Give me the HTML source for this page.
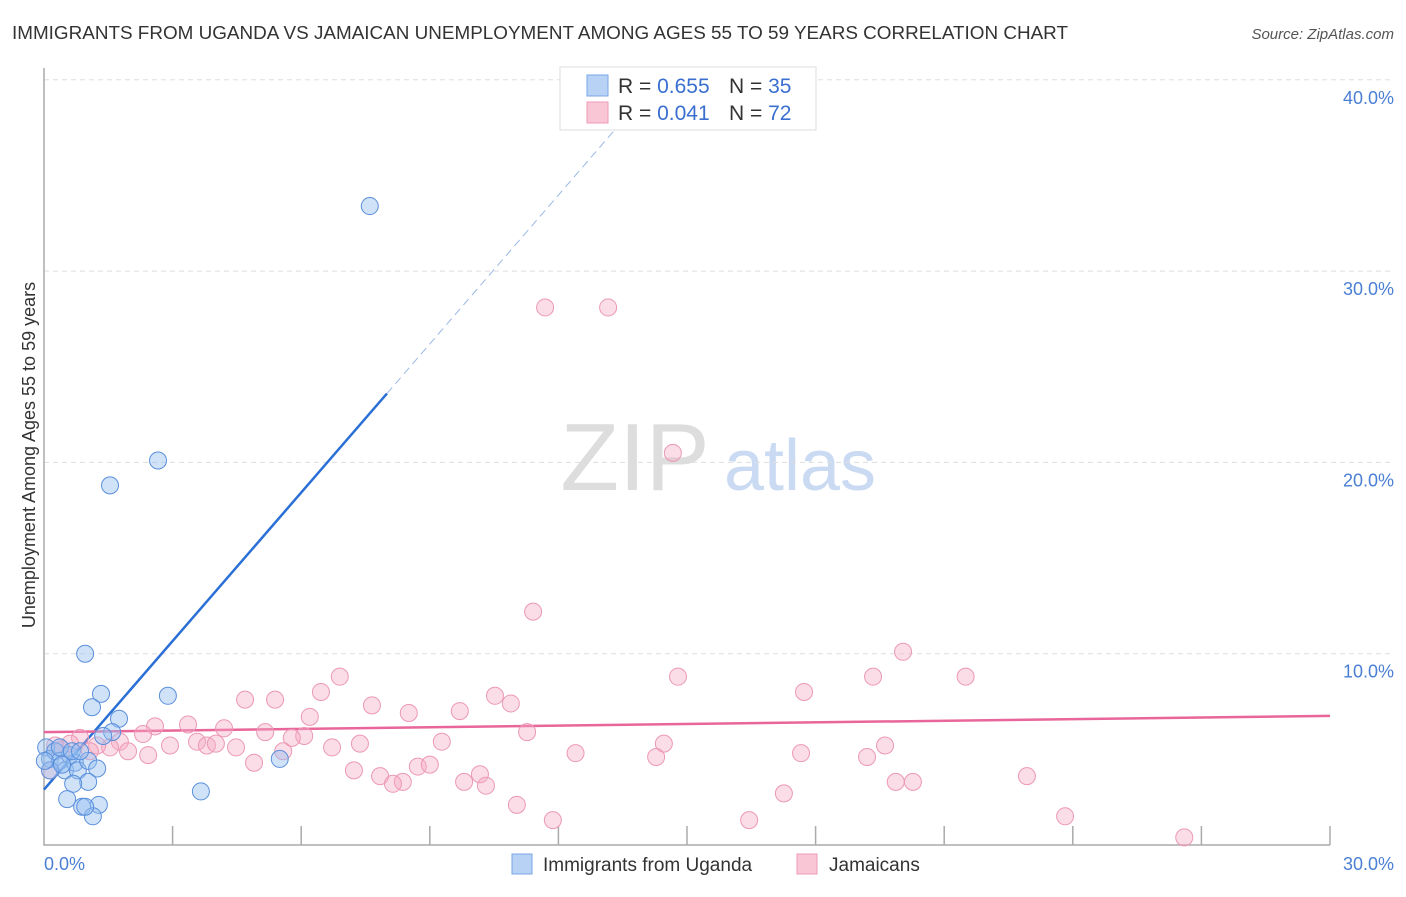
<!DOCTYPE html>
<html><head><meta charset="utf-8"><style>
body{margin:0;background:#fff;font-family:"Liberation Sans",sans-serif;}
svg text{font-family:"Liberation Sans",sans-serif;}
</style></head><body>
<svg id="chart" width="1406" height="892" xmlns="http://www.w3.org/2000/svg">
<text x="12" y="39" font-size="18.5" fill="#333" textLength="1056" lengthAdjust="spacingAndGlyphs">IMMIGRANTS FROM UGANDA VS JAMAICAN UNEMPLOYMENT AMONG AGES 55 TO 59 YEARS CORRELATION CHART</text>
<text x="1394" y="39" font-size="15" fill="#555" font-style="italic" text-anchor="end">Source: ZipAtlas.com</text>
<g>
<text x="635" y="490" font-size="96" fill="#ddd" font-family="Liberation Serif" text-anchor="middle">ZIP</text>
<text x="800" y="490" font-size="72" fill="#c9daf2" text-anchor="middle">atlas</text>
</g>
<g id="grid"></g>
<g id="axes"></g>
<g id="lines"></g>
<g id="pts"></g>
<text x="35" y="455" font-size="18" fill="#333" text-anchor="middle" transform="rotate(-90 35 455)">Unemployment Among Ages 55 to 59 years</text>
<text x="44" y="870" font-size="18" fill="#4a7fd4">0.0%</text>
<text x="1394" y="870" font-size="18" fill="#4a7fd4" text-anchor="end">30.0%</text>
<g>
<rect x="560" y="67" width="256" height="63" fill="#fff" stroke="#ddd"/>
<rect x="587" y="75" width="21" height="21" fill="#b8d2f5" stroke="#7aa6e6"/>
<rect x="587" y="102" width="21" height="21" fill="#f9c6d5" stroke="#ee9ab4"/>
<text x="618" y="93" font-size="21" fill="#333">R = <tspan fill="#3a6fd0">0.655</tspan></text>
<text x="729" y="93" font-size="21" fill="#333">N = <tspan fill="#3a6fd0">35</tspan></text>
<text x="618" y="120" font-size="21" fill="#333">R = <tspan fill="#3a6fd0"> 0.041</tspan></text>
<text x="729" y="120" font-size="21" fill="#333">N = <tspan fill="#3a6fd0">72</tspan></text>
</g>
<g>
<rect x="512" y="854" width="20" height="20" fill="#b8d2f5" stroke="#7aa6e6"/>
<text x="543" y="871" font-size="19" fill="#333">Immigrants from Uganda</text>
<rect x="797" y="854" width="20" height="20" fill="#f9c6d5" stroke="#ee9ab4"/>
<text x="829" y="871" font-size="19" fill="#333">Jamaicans</text>
</g>
</svg>
<script>
const yTicks=[10,20,30,40];
const yTickLabels=["10.0%","20.0%","30.0%","40.0%"];
const xTicks=[3,6,9,12,15,18,21,24,27,30];
const blueX=[7.6,2.66,1.54,0.96,1.33,2.89,1.12,1.75,1.59,5.5,3.66,0.05,0.14,0.26,0.37,0.49,0.6,0.72,0.79,1.03,1.24,1.03,0.68,0.54,0.89,1.28,1.14,0.96,0.37,0.65,0.14,0.02,0.84,0.42,1.38];
const blueY=[33.4,20.1,18.8,10.0,7.9,7.8,7.2,6.6,5.9,4.5,2.8,5.1,4.5,4.9,4.4,3.9,4.7,4.3,3.9,4.4,4.0,3.3,3.2,2.4,2.0,2.1,1.5,2.0,5.1,4.9,3.9,4.4,4.9,4.2,5.7];
const pinkX=[11.69,13.16,14.67,11.41,20.04,14.79,19.34,21.5,17.73,6.9,6.46,10.52,4.69,5.39,7.65,10.89,8.51,9.7,6.2,2.59,3.36,4.2,11.27,5.16,6.07,5.78,2.31,0.84,0.61,1.77,2.94,3.57,3.8,4.01,4.48,6.72,7.37,9.28,14.46,19.62,1.54,1.96,2.43,5.58,12.4,17.66,14.28,19.2,4.9,8.72,9.0,7.23,7.84,10.17,22.93,8.37,8.14,9.8,10.31,19.87,20.27,17.26,11.03,11.87,16.45,23.82,26.6,0.26,0.42,0.14,1.24,1.07];
const pinkY=[28.1,28.1,20.5,12.2,10.1,8.8,8.8,8.8,8.0,8.8,8.0,7.8,7.6,7.6,7.3,7.4,6.9,7.0,6.7,6.2,6.3,6.1,5.9,5.9,5.7,5.6,5.8,5.6,5.3,5.4,5.2,5.4,5.2,5.3,5.1,5.1,5.3,5.4,5.3,5.2,5.1,4.9,4.7,4.9,4.8,4.8,4.6,4.6,4.3,4.1,4.2,3.9,3.6,3.7,3.6,3.3,3.2,3.3,3.1,3.3,3.3,2.7,2.1,1.3,1.3,1.5,0.4,5.2,5.0,3.9,5.2,4.9];
const blueLine=[0,2.9,8.0,23.6,13.9,38.9];
const pinkLine=[0,5.9,30,6.75];
const NS="http://www.w3.org/2000/svg";
const X=v=>44+v/30*1286, Y=v=>845-v*19.13;
function mk(t,a,p){const e=document.createElementNS(NS,t);for(const k in a)e.setAttribute(k,a[k]);document.getElementById(p).appendChild(e);return e;}
yTicks.forEach((t,i)=>{
 const g=mk('line',{x1:44,x2:1394,y1:Y(t),y2:Y(t),stroke:'#ddd','stroke-dasharray':'5,4'},'grid');
 
 
 const l=mk('text',{x:1394,y:Y(t)+24,'font-size':18,fill:'#4a7fd4','text-anchor':'end'},'grid');
 l.textContent=yTickLabels[i];
 
 
});
const ax=mk('path',{d:'M44 68 V845 H1330',fill:'none',stroke:'#aaa','stroke-width':1.5},'axes');


xTicks.forEach(t=>{
 const k=mk('line',{x1:X(t),x2:X(t),y1:826,y2:845,stroke:'#aaa','stroke-width':1.5},'axes');
 
 
});
const bl=mk('line',{x1:X(blueLine[0]),y1:Y(blueLine[1]),x2:X(blueLine[2]),y2:Y(blueLine[3]),stroke:'#2a6fd6','stroke-width':2.5},'lines');


const bd=mk('line',{x1:X(blueLine[2]),y1:Y(blueLine[3]),x2:X(blueLine[4]),y2:Y(blueLine[5]),stroke:'#9bb8e6','stroke-width':1,'stroke-dasharray':'8,5'},'lines');


const pl=mk('line',{x1:X(pinkLine[0]),y1:Y(pinkLine[1]),x2:X(pinkLine[2]),y2:Y(pinkLine[3]),stroke:'#e8669a','stroke-width':2.5},'lines');


pinkX.forEach((v,i)=>{
 const c=mk('circle',{cx:X(v),cy:Y(pinkY[i]),r:8.5,fill:'rgba(246,170,195,0.4)',stroke:'#ec98b5','stroke-width':1},'pts');
 
 
});
blueX.forEach((v,i)=>{
 const c=mk('circle',{cx:X(v),cy:Y(blueY[i]),r:8.5,fill:'rgba(150,190,240,0.45)',stroke:'#5a8fdc','stroke-width':1},'pts');
 
 
});
</script>
</body></html>
